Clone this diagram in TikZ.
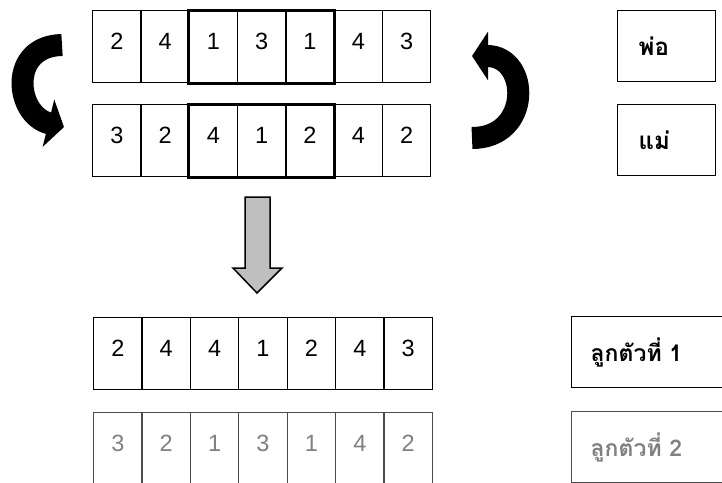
\documentclass[tikz,border=0pt]{standalone}
\usepackage{fontspec}
\setmainfont{Liberation Sans}
\newfontfamily\thaifont[Script=Thai]{Loma}
\usetikzlibrary{arrows.meta}

\tikzset{
  cell/.style={draw, line width=1.2pt, minimum width=48.4pt, minimum height=72pt,
    inner sep=0pt, anchor=north west, text height=16.5pt, text depth=10pt,
    font=\fontsize{23.5}{27}\selectfont},
  faded/.style={draw=black!70, text=black!50},
  hilite/.style={line width=3pt},
  namebox/.style={draw, line width=1.4pt, anchor=north west, minimum height=71pt,
    inner xsep=21pt, text width=56pt, align=left,
    font=\thaifont\bfseries\fontsize{24}{28}\selectfont},
  kidbox/.style={draw, line width=1.4pt, anchor=north west, minimum height=71pt,
    inner xsep=19pt, text width=132pt, align=left,
    font=\thaifont\bfseries\fontsize{23}{28}\selectfont},
  swaparrow/.style={line width=22pt, -{Triangle[length=16pt,width=48pt]}},
}

\begin{document}
\begin{tikzpicture}[x=1pt,y=-1pt]
\clip (0,0) rectangle (722,482);

% parents
\foreach \v [count=\i] in {2,4,1,3,1,4,3}
  \node[cell] (p\i) at ({92+(\i-1)*48.3},10) {\v};
\foreach \v [count=\i] in {3,2,4,1,2,4,2}
  \node[cell] (m\i) at ({92+(\i-1)*48.3},104) {\v};

\draw[hilite] (p3.north west) rectangle (p5.south east);
\draw[hilite] (m3.north west) rectangle (m5.south east);

% children
\foreach \v [count=\i] in {2,4,4,1,2,4,3}
  \node[cell] (c\i) at ({93+(\i-1)*48.4},317) {\v};
\foreach \v [count=\i] in {3,2,1,3,1,4,2}
  \node[cell,faded] (d\i) at ({93+(\i-1)*48.4},412) {\v};

% labels on the right
\node[namebox] (dad) at (617,10) {พ่อ};
\node[namebox] (mom) at (617,104) {แม่};
\node[kidbox] (kid1) at (571,316) {ลูกตัวที่ 1};
\node[kidbox,faded] (kid2) at (571,411) {ลูกตัวที่ 2};

% swap arrows
\coordinate (LA) at (62,45);
\coordinate (LB) at (64,127);
\coordinate (RA) at (472,138);
\coordinate (RB) at (472,56);
\draw[swaparrow] (LA) .. controls (8,46) and (15,115) .. (LB);
\draw[swaparrow] (RA) .. controls (532,138) and (530,56) .. (RB);

% crossover arrow
\draw[line width=1.5pt, fill=gray!50, line join=miter]
  (245,197) -- (270,197) -- (270,268) -- (282,268) -- (257,293)
  -- (233,268) -- (245,268) -- cycle;
\end{tikzpicture}
\end{document}
